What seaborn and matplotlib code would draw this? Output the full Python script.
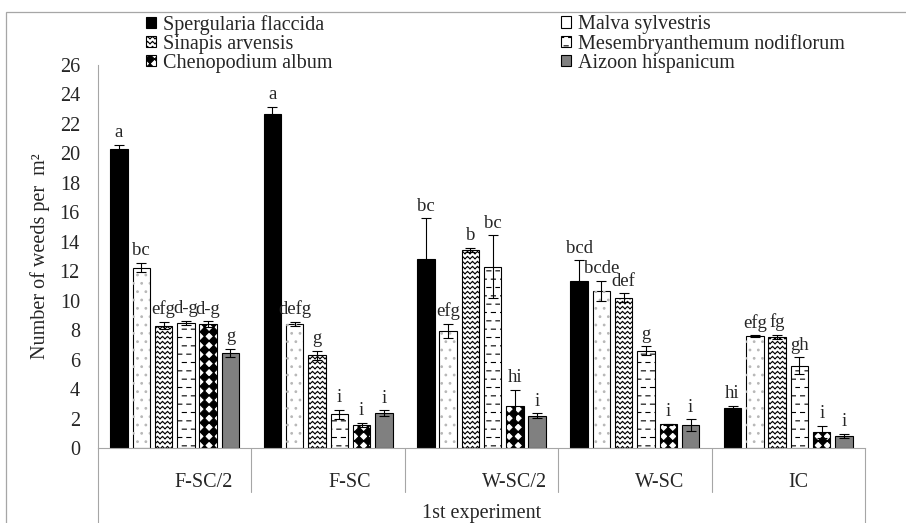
import warnings
import numpy as np
import pandas as pd
import matplotlib
matplotlib.use("Agg")
import matplotlib.pyplot as plt
from matplotlib import hatch as mhatch
from matplotlib.path import Path
from matplotlib.patches import Rectangle, Patch
from matplotlib.transforms import blended_transform_factory
import seaborn as sns

warnings.filterwarnings("ignore")

# ---- data -----------------------------------------------------------------
treatments = ["F-SC/2", "F-SC", "W-SC/2", "W-SC", "IC"]
species = ["Spergularia flaccida", "Malva sylvestris", "Sinapis arvensis",
           "Mesembryanthemum nodiflorum", "Chenopodium album", "Aizoon hispanicum"]

spergularia = [20.3, 22.7, 12.8, 11.35, 2.7]
malva = [12.25, 8.4, 7.95, 10.65, 7.6]
sinapis = [8.3, 6.3, 13.45, 10.2, 7.55]
mesembryanthemum = [8.5, 2.3, 12.3, 6.6, 5.6]
chenopodium = [8.4, 1.55, 2.85, 1.6, 1.1]
aizoon = [6.45, 2.35, 2.2, 1.55, 0.8]

spergularia_se = [0.3, 0.45, 2.8, 1.4, 0.15]
malva_se = [0.3, 0.15, 0.5, 0.7, 0.05]
sinapis_se = [0.25, 0.3, 0.15, 0.3, 0.15]
mesembryanthemum_se = [0.15, 0.3, 2.15, 0.3, 0.55]
chenopodium_se = [0.2, 0.15, 1.1, 0.05, 0.4]
aizoon_se = [0.3, 0.2, 0.15, 0.4, 0.15]

spergularia_grp = ["a", "a", "bc", "bcd", "hi"]
malva_grp = ["bc", "defg", "efg", "bcde", "efg"]
sinapis_grp = ["efg", "g", "b", "def", "fg"]
mesembryanthemum_grp = ["d-g", "i", "bc", "g", "gh"]
chenopodium_grp = ["d-g", "i", "hi", "i", "i"]
aizoon_grp = ["g", "i", "i", "i", "i"]

values = [spergularia, malva, sinapis, mesembryanthemum, chenopodium, aizoon]
errors = [spergularia_se, malva_se, sinapis_se, mesembryanthemum_se,
          chenopodium_se, aizoon_se]
letters = [spergularia_grp, malva_grp, sinapis_grp, mesembryanthemum_grp,
           chenopodium_grp, aizoon_grp]

x_title = "1st experiment"
y_title = "Number of weeds per  m\u00b2"

# ---- extra fill patterns ----------------------------------------------------
class ZigZagHatch(mhatch.HatchPatternBase):
    """Horizontal zigzag lines ('z')."""
    def __init__(self, hatch, density):
        n = hatch.count('z')
        self.rows = 20 * n
        self.teeth = 20
        self.segs = 2 * self.teeth
        self.num_vertices = self.rows * self.segs * 2

    def set_vertices_and_codes(self, vertices, codes):
        xs = np.linspace(0.0, 1.0, self.segs + 1)
        amp = 0.45 / self.rows
        k = 0
        for r in range(self.rows):
            y0 = (r + 0.25) / self.rows
            ys = y0 + amp * (np.arange(self.segs + 1) % 2)
            for j in range(self.segs):
                vertices[k] = (xs[j], ys[j])
                vertices[k + 1] = (xs[j + 1], ys[j + 1])
                codes[k] = Path.MOVETO
                codes[k + 1] = Path.LINETO
                k += 2


class BrickDashHatch(mhatch.HatchPatternBase):
    """Short staggered horizontal dashes ('m')."""
    def __init__(self, hatch, density):
        n = hatch.count('m')
        self.cols = 11 * n
        self.rows = 12 * n
        self.num_vertices = self.cols * self.rows * 2

    def set_vertices_and_codes(self, vertices, codes):
        k = 0
        dash = 0.45 / self.cols
        for r in range(self.rows):
            y = (r + 0.5) / self.rows
            shift = 0.5 if r % 2 else 0.0
            for c in range(self.cols):
                x0 = (c + 0.05 + shift) / self.cols
                vertices[k] = (x0, y)
                vertices[k + 1] = (x0 + dash, y)
                codes[k] = Path.MOVETO
                codes[k + 1] = Path.LINETO
                k += 2


class DiamondHatch(mhatch.HatchPatternBase):
    """Solid diamonds on a diagonal checker ('d')."""
    def __init__(self, hatch, density):
        n = hatch.count('d')
        self.cells = 11 * n
        self.num_vertices = self.cells * self.cells * 5

    def set_vertices_and_codes(self, vertices, codes):
        s = 1.0 / self.cells
        k = 0
        for i in range(self.cells):
            for j in range(self.cells):
                cx, cy = (i + 0.5) * s, (j + 0.5) * s
                h = 0.5 * s
                vertices[k:k + 5] = [(cx, cy - h), (cx + h, cy), (cx, cy + h),
                                     (cx - h, cy), (cx, cy - h)]
                codes[k] = Path.MOVETO
                codes[k + 1:k + 4] = Path.LINETO
                codes[k + 4] = Path.CLOSEPOLY
                k += 5


mhatch._hatch_types.extend([ZigZagHatch, BrickDashHatch, DiamondHatch])

# ---- style -----------------------------------------------------------------
sns.set_style("white")
plt.rcParams["font.family"] = ["Liberation Serif", "DejaVu Serif"]
plt.rcParams["hatch.linewidth"] = 0.8
FS = 14.5
FS_LETTER = 13.5
frame_gray = "#a6a6a6"

fills = ["#000000", "#ffffff", "#ffffff", "#ffffff", "#ffffff", "#808080"]
hatches = [None, None, "z", "m", "d", None]

fig = plt.figure(figsize=(9.06, 5.23), dpi=100)
ax = fig.add_axes([98 / 906, 75 / 523, 767 / 906, 383 / 523])

df = pd.DataFrame(
    [(t, sp, v) for sp, vals in zip(species, values) for t, v in zip(treatments, vals)],
    columns=["Treatment", "Species", "Weeds"],
)

sns.barplot(data=df, x="Treatment", y="Weeds", hue="Species",
            order=treatments, hue_order=species,
            palette=dict(zip(species, fills)), saturation=1,
            width=0.872, gap=0.216, errorbar=None, legend=False,
            edgecolor="black", linewidth=0.8, ax=ax)

for cont, h in zip(ax.containers, hatches):
    if h:
        for p in cont.patches:
            p.set_hatch(h)

# sparse grey dots on the Malva bars
for p in ax.containers[1].patches:
    ax.add_patch(Rectangle((p.get_x(), p.get_y()), p.get_width(), p.get_height(),
                           fill=False, lw=0, edgecolor="#b8b8b8", hatch="..",
                           zorder=p.get_zorder() + 0.1))

# error bars and letter groupings
for cont, vals, errs, labs in zip(ax.containers, values, errors, letters):
    xs = [p.get_x() + p.get_width() / 2 for p in cont.patches]
    ax.errorbar(xs, vals, yerr=errs, fmt="none", ecolor="black",
                elinewidth=0.8, capsize=3.5, capthick=0.8, zorder=3)
    for x, v, e, lab in zip(xs, vals, errs, labs):
        ax.annotate(lab, (x, v + e), xytext=(0, 5.5), textcoords="offset points",
                    ha="center", va="baseline", fontsize=FS_LETTER)

# axes
ax.set_xlim(-0.5, len(treatments) - 0.5)
ax.set_ylim(0, 26)
ax.set_yticks(np.arange(0, 27, 2))
ax.set_xticks([])
ax.set_xlabel("")
ax.set_ylabel(y_title, fontsize=FS)
ax.yaxis.set_label_coords(-0.062, 0.5)
ax.tick_params(axis="y", direction="out", length=6, width=0.8,
               color=frame_gray, pad=7, labelsize=FS)
for side in ("top", "right"):
    ax.spines[side].set_visible(False)
for side in ("left", "bottom"):
    ax.spines[side].set_color(frame_gray)
    ax.spines[side].set_linewidth(0.8)

# category table beneath the plot
trans = blended_transform_factory(ax.transData, ax.transAxes)
bounds = np.arange(len(treatments) + 1) - 0.5
for k, b in enumerate(bounds):
    end = -0.4 if k in (0, len(bounds) - 1) else -0.115
    ax.plot([b, b], [0, end], transform=trans, clip_on=False,
            color=frame_gray, lw=0.8)
for i, t in enumerate(treatments):
    ax.text(i, -0.09, t, transform=trans, ha="left", va="center", fontsize=FS)
ax.text(0.5, -0.17, x_title, transform=ax.transAxes, ha="center", va="center",
        fontsize=FS)

# legend in two columns
handles = [Patch(facecolor=f, edgecolor="black", linewidth=0.8,
                 hatch=(h if h else None)) for f, h in zip(fills, hatches)]
leg_kw = dict(loc="upper left", frameon=False, fontsize=FS, borderpad=0,
              borderaxespad=0, handlelength=0.5, handleheight=0.5,
              handletextpad=0.35, labelspacing=0.0)
col1 = [0, 2, 4]
col2 = [1, 3, 5]
fig.legend([handles[i] for i in col1], [species[i] for i in col1],
           bbox_to_anchor=(146 / 906, 1 - 15 / 523), **leg_kw)
fig.legend([handles[i] for i in col2], [species[i] for i in col2],
           bbox_to_anchor=(561 / 906, 1 - 15 / 523), **leg_kw)

# chart area border
fig.add_artist(Rectangle((6 / 906, -0.2), 1.2, 1.2 - 11.7 / 523,
                         transform=fig.transFigure, fill=False,
                         edgecolor=frame_gray, lw=0.9, clip_on=False))

fig.savefig("out.png", dpi=100)
